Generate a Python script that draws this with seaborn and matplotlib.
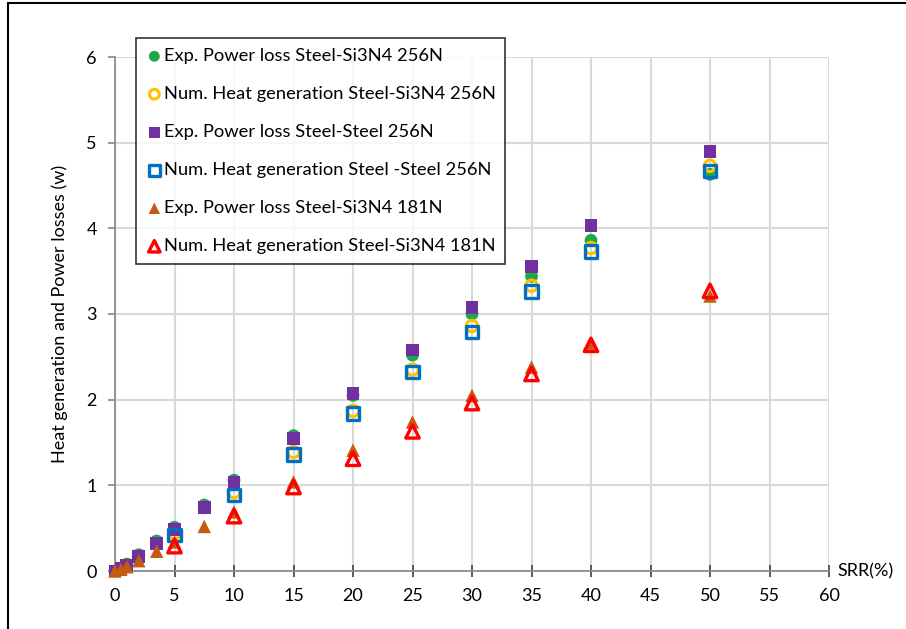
import matplotlib
matplotlib.use("Agg")
import matplotlib.pyplot as plt
import seaborn as sns
import numpy as np
from matplotlib.patches import Rectangle

sns.set_theme(style="white")
plt.rcParams['font.family'] = ['Lato', 'DejaVu Sans']

# ---- data ----
srr_exp = [0, 0.5, 1, 2, 3.5, 5, 7.5, 10, 15, 20, 25, 30, 35, 40, 50]
srr_num = [5, 10, 15, 20, 25, 30, 35, 40, 50]

exp_si3n4_256 = [0, 0.03, 0.08, 0.19, 0.35, 0.51, 0.77, 1.06, 1.58, 2.05, 2.52, 3.00, 3.44, 3.86, 4.63]
num_si3n4_256 = [0.44, 0.92, 1.39, 1.87, 2.35, 2.86, 3.33, 3.77, 4.73]
exp_steel_256 = [0, 0.03, 0.07, 0.17, 0.32, 0.48, 0.74, 1.03, 1.55, 2.07, 2.58, 3.08, 3.55, 4.03, 4.90]
num_steel_256 = [0.42, 0.89, 1.36, 1.84, 2.32, 2.79, 3.26, 3.73, 4.67]
exp_si3n4_181 = [0, 0.02, 0.05, 0.12, 0.23, 0.34, 0.52, 0.69, 1.04, 1.41, 1.74, 2.05, 2.38, 2.66, 3.21]
num_si3n4_181 = [0.29, 0.64, 0.98, 1.31, 1.63, 1.96, 2.30, 2.64, 3.27]

labels = [
    "Exp. Power loss Steel-Si3N4 256N",
    "Num. Heat generation Steel-Si3N4 256N",
    "Exp. Power loss Steel-Steel 256N",
    "Num. Heat generation Steel -Steel 256N",
    "Exp. Power loss Steel-Si3N4 181N",
    "Num. Heat generation Steel-Si3N4 181N",
]
x_ticks = [0, 5, 10, 15, 20, 25, 30, 35, 40, 45, 50, 55, 60]
y_ticks = [0, 1, 2, 3, 4, 5, 6]

fig = plt.figure(figsize=(9.06, 6.29), dpi=100)
ax = fig.add_axes([115/906, 1-571/629, (829-115)/906, (571-57)/629])

S = 85
common = dict(ax=ax, clip_on=False)
sns.scatterplot(x=srr_exp, y=exp_si3n4_256, marker='o', s=S,
                color='#1EA84A', edgecolor='none', linewidth=0, label=labels[0], zorder=3, **common)
sns.scatterplot(x=srr_num, y=num_si3n4_256, marker='o', s=S*0.8,
                facecolor='none', edgecolor='#FFC000', linewidth=2.2, label=labels[1], zorder=4, **common)
sns.scatterplot(x=srr_exp, y=exp_steel_256, marker='s', s=S,
                color='#7030A0', edgecolor='none', linewidth=0, label=labels[2], zorder=5, **common)
sns.scatterplot(x=srr_num, y=num_steel_256, marker='s', s=S*0.95,
                facecolor='none', edgecolor='#0070C0', linewidth=2.4, label=labels[3], zorder=6, **common)
sns.scatterplot(x=srr_exp, y=exp_si3n4_181, marker='^', s=S*1.1,
                color='#C55A11', edgecolor='none', linewidth=0, label=labels[4], zorder=7, **common)
sns.scatterplot(x=srr_num, y=num_si3n4_181, marker='^', s=S*1.1,
                facecolor='none', edgecolor='#FF0000', linewidth=2.4, label=labels[5], zorder=8, **common)

ax.set_xlim(0, 60)
ax.set_ylim(0, 6)
ax.set_xticks(x_ticks)
ax.set_yticks(y_ticks)
ax.grid(True, color='#D9D9D9', linewidth=1.5, zorder=0)
ax.set_axisbelow(True)

for sp in ['top', 'right']:
    ax.spines[sp].set_visible(False)
for sp in ['left', 'bottom']:
    ax.spines[sp].set_color('#868686')
    ax.spines[sp].set_linewidth(1.2)
    ax.spines[sp].set_zorder(2)

ax.tick_params(axis='x', direction='inout', length=9, width=1.2, color='#404040',
               labelsize=13, pad=8, labelcolor='black', bottom=True)
ax.tick_params(axis='y', direction='out', length=5, width=1.2, color='#868686',
               labelsize=13, pad=8, labelcolor='black', left=True)

ax.set_ylabel("Heat generation and Power losses (w)", fontsize=13, labelpad=13, color='black')
ax.set_xlabel("")
ax.text(1.012, 0.0, "SRR(%)", transform=ax.transAxes, fontsize=13,
        ha='left', va='center', color='black')

leg = ax.legend(loc='upper left', bbox_to_anchor=(21/714, 1-(38-57)/514), frameon=True,
                fontsize=13.2, labelspacing=1.2, handletextpad=0.05, borderpad=0.55,
                handlelength=0.9, fancybox=False, borderaxespad=0, markerscale=0.85)
leg.get_frame().set_edgecolor('black')
leg.get_frame().set_linewidth(1.2)
leg.set_zorder(10)
for t in leg.get_texts():
    t.set_color('black')

# outer frame
fig.patches.append(Rectangle((8/906, -0.1), 1.2, 1.1 - 2/629 - 0.001,
                             transform=fig.transFigure, fill=False,
                             edgecolor='black', linewidth=1.5))

fig.savefig("out.png", dpi=100)
